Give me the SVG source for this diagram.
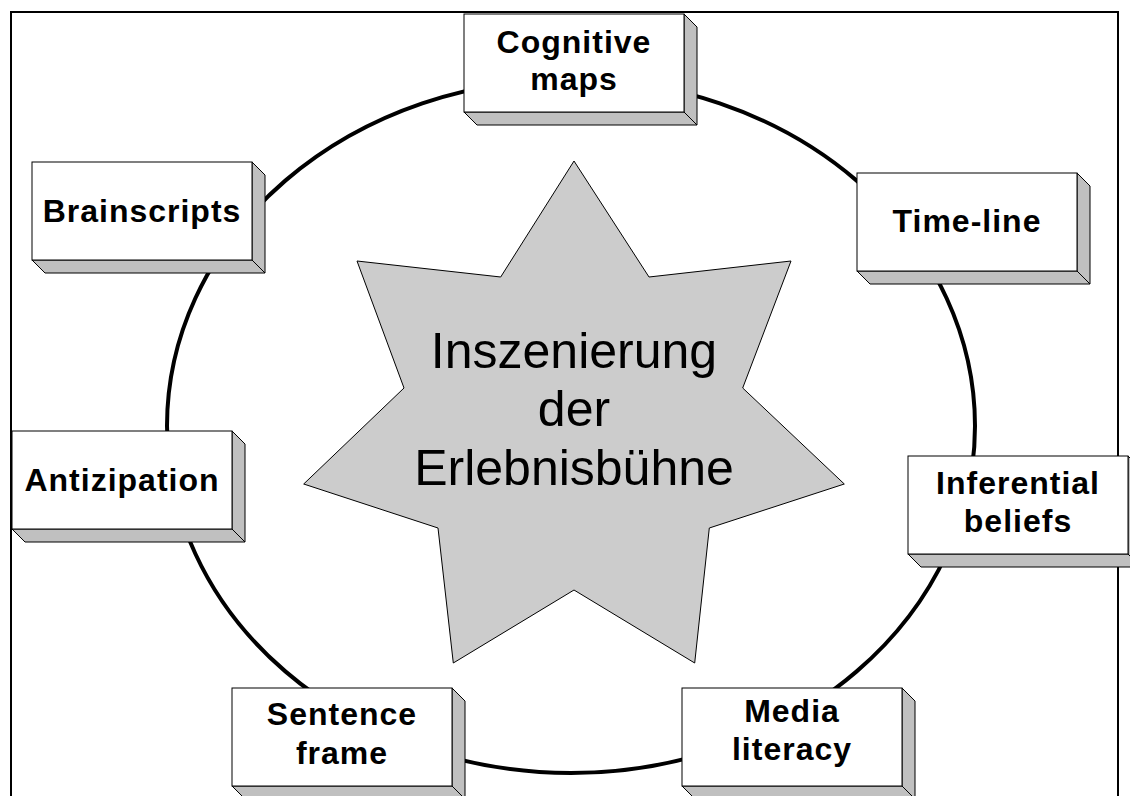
<svg xmlns="http://www.w3.org/2000/svg" xmlns:xlink="http://www.w3.org/1999/xlink" width="1130" height="796" viewBox="0 0 1130 796">
<style>
.frame{fill:none;stroke:#000;stroke-width:2}
.ring{fill:none;stroke:#000;stroke-width:4}
.star{fill:#cccccc;stroke:#000;stroke-width:1}
.face{fill:#fff;stroke:#000;stroke-width:1}
.side{fill:#c0c0c0;stroke:#000;stroke-width:1}
.lbl{font-family:"Liberation Sans",Arial,sans-serif;font-weight:bold;font-size:32px;letter-spacing:1px;text-anchor:middle;fill:#000}
.big{font-family:"Liberation Sans",Arial,sans-serif;font-size:50px;text-anchor:middle;fill:#000}
</style>
<defs>
<g id="box">
<polygon class="side" points="220,0 233,13 233,111 220,98"/>
<polygon class="side" points="0,98 220,98 233,111 13,111"/>
<rect class="face" x="0" y="0" width="220" height="98"/>
</g>
</defs>
<rect width="1130" height="796" fill="#fff"/>
<path class="frame" d="M11,800 L11,12 L1118,12 L1118,800"/>
<g id="connectors">
<ellipse class="ring" cx="571" cy="426" rx="404" ry="347"/>
</g>
<g id="center">
<polygon class="star" points="574,161 649,277 791,261 742.7,388 844.3,484 709.3,528 694.7,663 574,590 453.3,663 438,528 303.7,484 404,388 357,261 500.7,277"/>
<text class="big" x="574" y="368">Inszenierung</text>
<text class="big" x="574" y="426">der</text>
<text class="big" x="574" y="485">Erlebnisbühne</text>
</g>
<g id="cognitive-maps">
<use xlink:href="#box" x="464" y="14"/>
<text class="lbl" x="574" y="53">Cognitive</text>
<text class="lbl" x="574" y="90">maps</text>
</g>
<g id="time-line">
<use xlink:href="#box" x="857" y="173"/>
<text class="lbl" x="967" y="232">Time-line</text>
</g>
<g id="brainscripts">
<use xlink:href="#box" x="32" y="162"/>
<text class="lbl" x="142" y="222">Brainscripts</text>
</g>
<g id="antizipation">
<use xlink:href="#box" x="12" y="431"/>
<text class="lbl" x="122" y="491">Antizipation</text>
</g>
<g id="inferential-beliefs">
<use xlink:href="#box" x="908" y="456"/>
<text class="lbl" x="1018" y="494">Inferential</text>
<text class="lbl" x="1018" y="532">beliefs</text>
</g>
<g id="sentence-frame">
<use xlink:href="#box" x="232" y="688"/>
<text class="lbl" x="342" y="725">Sentence</text>
<text class="lbl" x="342" y="764">frame</text>
</g>
<g id="media-literacy">
<use xlink:href="#box" x="682" y="688"/>
<text class="lbl" x="792" y="722">Media</text>
<text class="lbl" x="792" y="760">literacy</text>
</g>
</svg>
